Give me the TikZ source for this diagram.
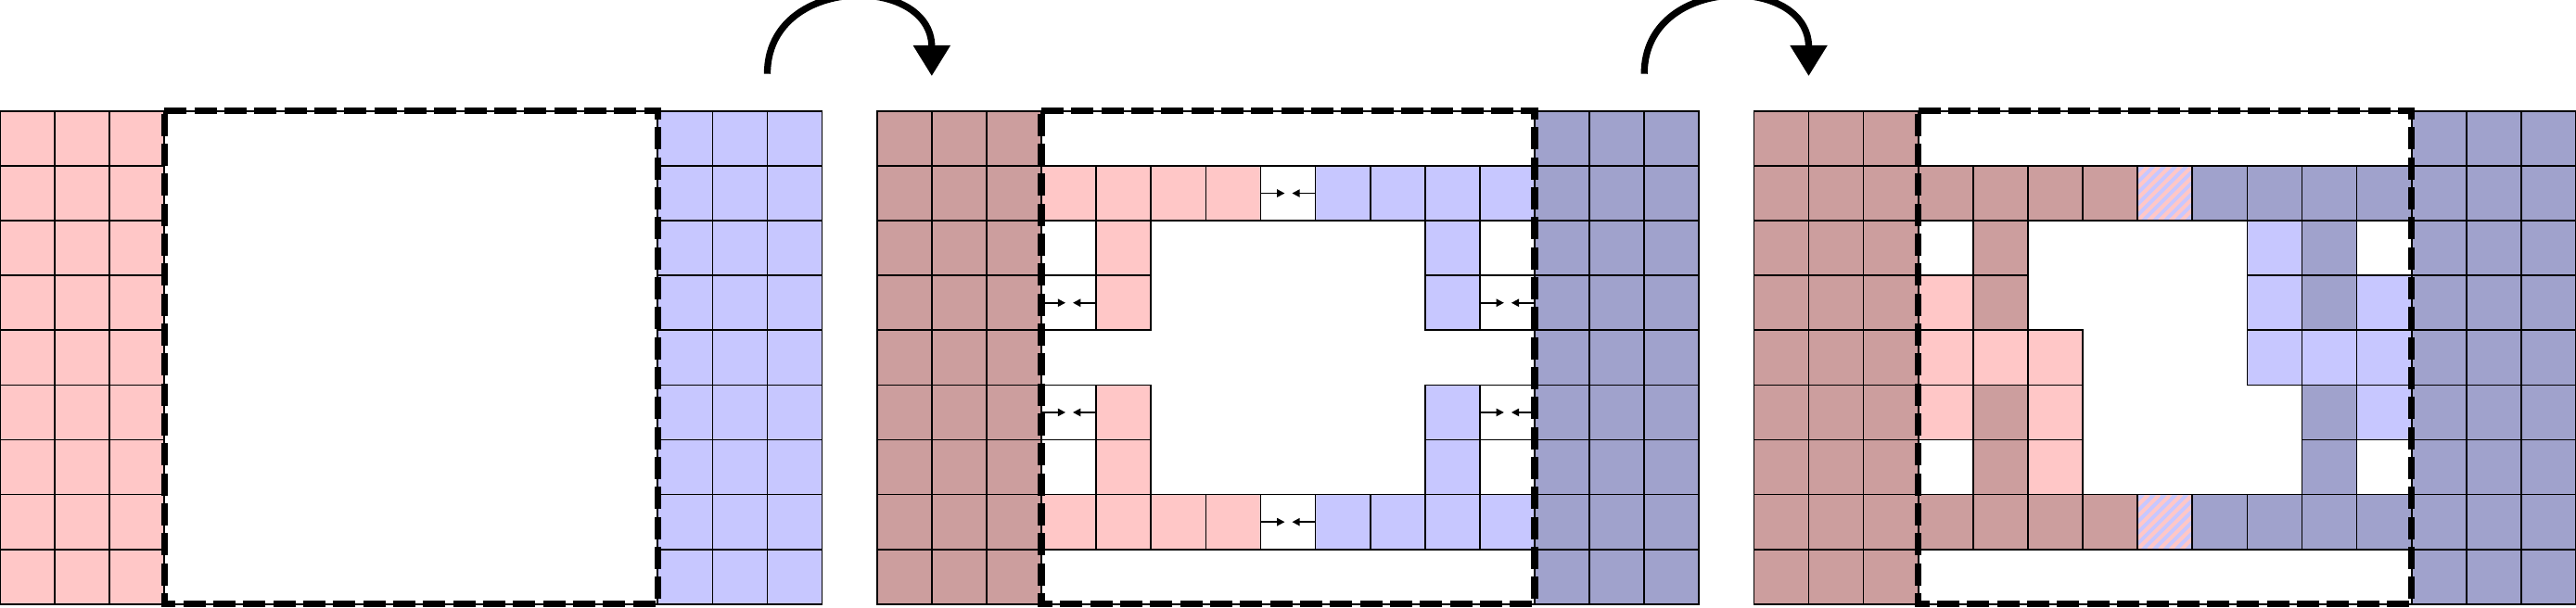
\documentclass[tikz,border=0pt]{standalone}
\usetikzlibrary{arrows.meta}
\definecolor{lpink}{RGB}{255,199,199}
\definecolor{lblue}{RGB}{199,199,255}
\definecolor{dpink}{RGB}{204,158,158}
\definecolor{dblue}{RGB}{160,162,204}
\tikzset{
  cellline/.style={draw=black, line width=0.8pt},
  boxthin/.style={draw=black, line width=0.8pt},
  boxdash/.style={draw=black, line width=3.5pt, dash pattern=on 11.56pt off 4pt},
  bigarrow/.style={line width=3.5pt, -{Triangle[length=0.56cm,width=0.65cm]}},
  smallarrow/.style={line width=0.8pt, -{Triangle[length=0.14cm,width=0.14cm]}},
}
\newcommand{\gcell}[3]{\filldraw[cellline, fill=#3] (#1,#2) rectangle ++(1,1);}
\newcommand{\hcell}[2]{%
  \begin{scope}
    \clip (#1,#2) rectangle ++(1,1);
    \fill[lblue] (#1,#2) rectangle ++(1,1);
    \foreach \k in {-1.0,-0.8,...,1.0} \draw[lpink, line width=2pt] ({#1+\k},#2) -- ++(1,1);
  \end{scope}
  \draw[cellline] (#1,#2) rectangle ++(1,1);}
\newcommand{\arrowpair}[2]{%
  \draw[smallarrow] (#1,#2+0.5) -- (#1+0.44,#2+0.5);
  \draw[smallarrow] (#1+1,#2+0.5) -- (#1+0.575,#2+0.5);}
\newcommand{\dbox}{%
  \draw[boxthin] (3,9) -- (12,9) -- (12,0) -- (3,0) -- cycle;
  \draw[boxdash] (3,9) -- (12,9) -- (12,0) -- (3,0) -- cycle;}
\begin{document}
\begin{tikzpicture}
\useasboundingbox (0,-0.07) rectangle (47,11.028);
% Panel 1
\begin{scope}
  \foreach \r in {0,...,8} {
    \foreach \c in {0,1,2} {\gcell{\c}{\r}{lpink}}
    \foreach \c in {12,13,14} {\gcell{\c}{\r}{lblue}}
  }
  \dbox
\end{scope}
% Panel 2
\begin{scope}[xshift=16cm]
  \foreach \r in {0,...,8} {
    \foreach \c in {0,1,2} {\gcell{\c}{\r}{dpink}}
    \foreach \c in {12,13,14} {\gcell{\c}{\r}{dblue}}
  }
  \foreach \r in {1,7} {
    \foreach \c in {3,4,5,6} {\gcell{\c}{\r}{lpink}}
    \gcell{7}{\r}{white}
    \foreach \c in {8,9,10,11} {\gcell{\c}{\r}{lblue}}
  }
  \foreach \r in {2,3,5,6} {
    \gcell{3}{\r}{white}
    \gcell{4}{\r}{lpink}
    \gcell{10}{\r}{lblue}
    \gcell{11}{\r}{white}
  }
  \foreach \x/\y in {7/7,7/1,3/5,3/3,11/5,11/3} {\arrowpair{\x}{\y}}
  \dbox
\end{scope}
% Panel 3
\begin{scope}[xshift=32cm]
  \foreach \r in {0,...,8} {
    \foreach \c in {0,1,2} {\gcell{\c}{\r}{dpink}}
    \foreach \c in {12,13,14} {\gcell{\c}{\r}{dblue}}
  }
  \foreach \r in {1,7} {
    \foreach \c in {3,4,5,6} {\gcell{\c}{\r}{dpink}}
    \hcell{7}{\r}
    \foreach \c in {8,9,10,11} {\gcell{\c}{\r}{dblue}}
  }
  \foreach \x/\y/\col in {3/6/white,4/6/dpink,9/6/lblue,10/6/dblue,11/6/white,
    3/5/lpink,4/5/dpink,9/5/lblue,10/5/dblue,11/5/lblue,
    3/4/lpink,4/4/lpink,5/4/lpink,9/4/lblue,10/4/lblue,11/4/lblue,
    3/3/lpink,4/3/dpink,5/3/lpink,10/3/dblue,11/3/lblue,
    3/2/white,4/2/dpink,5/2/lpink,10/2/dblue,11/2/white} {\gcell{\x}{\y}{\col}}
  \dbox
\end{scope}
% Curved arrows
\coordinate (a1s) at (14,9.68);
\coordinate (a1e) at (17,9.64);
\coordinate (a2s) at (30,9.68);
\coordinate (a2e) at (33,9.64);
\draw[bigarrow] (a1s) .. controls (14,11.5) and (17,11.5) .. (a1e);
\draw[bigarrow] (a2s) .. controls (30,11.5) and (33,11.5) .. (a2e);
\end{tikzpicture}
\end{document}
